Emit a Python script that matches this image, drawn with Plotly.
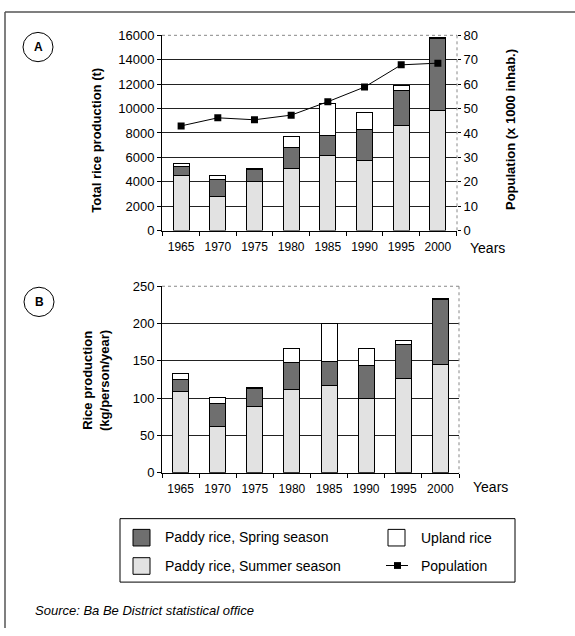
import plotly.graph_objects as go

W, H = 575, 636

years = ["1965", "1970", "1975", "1980", "1985", "1990", "1995", "2000"]

# Panel A: total rice production (t)
a_summer = [4550, 2800, 4020, 5090, 6120, 5780, 8600, 9880]
a_spring = [670, 1400, 990, 1730, 1650, 2530, 2900, 5830]
a_upland = [290, 350, 60, 850, 2610, 1330, 400, 80]
population = [42.9, 46.2, 45.4, 47.3, 52.8, 58.8, 67.9, 68.6]

# Panel B: rice production per person (kg/person/year)
b_summer = [109, 62, 89, 112, 117, 99, 126, 145.5]
b_spring = [15.6, 31.2, 23.8, 35.6, 32, 44.3, 45.6, 86.7]
b_upland = [8.2, 7.8, 0.9, 19.6, 50.5, 22.7, 5.2, 0.8]

C_SUMMER = "#e2e2e2"
C_SPRING = "#6f6f6f"
C_UPLAND = "#ffffff"
FONT = "Liberation Sans, Arial, sans-serif"


def px(x):
    return x / W


def py(y):
    return 1 - y / H


A_X = [162, 457]
A_Y = [29, 229]
B_X = [162, 459]
B_Y = [286, 477]

fig = go.Figure()

bar_line = dict(color="black", width=1)
for xa, ya, vals in [("x", "y", (a_summer, a_spring, a_upland)),
                     ("x3", "y3", (b_summer, b_spring, b_upland))]:
    for v, c, n in zip(vals, [C_SUMMER, C_SPRING, C_UPLAND],
                       ["Paddy rice, Summer season", "Paddy rice, Spring season", "Upland rice"]):
        fig.add_trace(go.Bar(x=years, y=v, name=n, marker=dict(color=c, line=bar_line),
                             xaxis=xa, yaxis=ya, showlegend=False))

fig.add_trace(go.Scatter(x=years, y=population, name="Population", mode="lines+markers",
                         line=dict(color="black", width=1),
                         marker=dict(symbol="square", size=7, color="black"),
                         xaxis="x", yaxis="y2", showlegend=False))

xcommon = dict(type="category", showline=True, linecolor="black", linewidth=1,
               ticks="outside", tickson="boundaries", ticklen=4, tickcolor="black",
               tickfont=dict(size=12, color="black"), showgrid=False, ticklabelstandoff=5)
ycommon = dict(showline=True, linecolor="black", linewidth=1, ticks="outside", ticklen=4,
               tickcolor="black", tickfont=dict(size=13, color="black"), tickformat="d",
               showgrid=True, gridcolor="#222222", gridwidth=1, zeroline=False)

fig.update_layout(
    width=W, height=H, margin=dict(l=0, r=0, t=0, b=0),
    paper_bgcolor="white", plot_bgcolor="white",
    font=dict(family=FONT, color="black"),
    barmode="stack", bargap=0.57, showlegend=False,
    xaxis=dict(domain=[px(A_X[0]), px(A_X[1])], anchor="y", **xcommon),
    yaxis=dict(domain=[py(A_Y[1]), py(A_Y[0])], anchor="x", range=[0, 16000], dtick=2000, **ycommon),
    yaxis2=dict(overlaying="y", side="right", anchor="x", range=[0, 80], dtick=10,
                showgrid=False, showline=False, ticks="outside", ticklen=3, tickcolor="black",
                tickfont=dict(size=13, color="black"), zeroline=False),
    xaxis3=dict(domain=[px(B_X[0]), px(B_X[1])], anchor="y3", **xcommon),
    yaxis3=dict(domain=[py(B_Y[1]), py(B_Y[0])], anchor="x3", range=[0, 250], dtick=50, **ycommon),
)

shapes = []
# dotted top/right plot borders
for (x0, x1), (y0, y1) in [(A_X, A_Y), (B_X, B_Y)]:
    shapes.append(dict(type="line", xref="paper", yref="paper", x0=px(x0), x1=px(x1), y0=py(y0), y1=py(y0),
                       line=dict(color="#888888", width=1, dash="dot"), layer="above"))
    shapes.append(dict(type="line", xref="paper", yref="paper", x0=px(x1), x1=px(x1), y0=py(y0), y1=py(y1),
                       line=dict(color="#888888", width=1, dash="dot"), layer="above"))
# outer frame (left & top)
shapes.append(dict(type="line", xref="paper", yref="paper", x0=px(5), x1=px(5), y0=py(5), y1=py(636),
                   line=dict(color="#555555", width=1.5)))
shapes.append(dict(type="line", xref="paper", yref="paper", x0=px(5), x1=px(575), y0=py(5), y1=py(5),
                   line=dict(color="#555555", width=1.5)))
# panel circles
for cx, cy in [(38, 41), (39, 302)]:
    shapes.append(dict(type="circle", xref="paper", yref="paper", x0=px(cx - 15), x1=px(cx + 15),
                       y0=py(cy + 15), y1=py(cy - 15), line=dict(color="black", width=1)))
# legend box
shapes.append(dict(type="rect", xref="paper", yref="paper", x0=px(120), x1=px(515), y0=py(589), y1=py(524),
                   line=dict(color="black", width=1)))
for (x0, y0, c) in [(133, 535, C_SPRING), (133, 564, C_SUMMER), (388, 535, C_UPLAND)]:
    shapes.append(dict(type="rect", xref="paper", yref="paper", x0=px(x0), x1=px(x0 + 17),
                       y0=py(y0 + 17), y1=py(y0), fillcolor=c, line=dict(color="black", width=1)))
shapes.append(dict(type="line", xref="paper", yref="paper", x0=px(386), x1=px(408), y0=py(572), y1=py(572),
                   line=dict(color="black", width=1)))
shapes.append(dict(type="rect", xref="paper", yref="paper", x0=px(394), x1=px(401), y0=py(575.5), y1=py(568.5),
                   fillcolor="black", line=dict(color="black", width=0)))
fig.update_layout(shapes=shapes)

ann = []


def text(x, y, s, size=13, bold=False, italic=False, angle=0, xanchor="center"):
    if bold:
        s = "<b>" + s + "</b>"
    if italic:
        s = "<i>" + s + "</i>"
    ann.append(dict(x=px(x), y=py(y), xref="paper", yref="paper", text=s, showarrow=False,
                    textangle=angle, xanchor=xanchor, yanchor="middle",
                    font=dict(size=size, color="black", family=FONT)))


text(38, 41, "A", size=12, bold=True)
text(39, 302, "B", size=12, bold=True)
text(97, 137, "Total rice production (t)", bold=True, angle=-90)
text(510, 126, "Population (x 1000 inhab.)", bold=True, angle=-90)
text(468, 247, "Years", size=14, xanchor="left")
text(96, 383, "Rice production<br>(kg/person/year)", bold=True, angle=-90)
text(471, 492, "Years", size=14, xanchor="left")
text(163, 543, "Paddy rice, Spring season", size=14, xanchor="left")
text(163, 572, "Paddy rice, Summer season", size=14, xanchor="left")
text(419, 544, "Upland rice", size=14, xanchor="left")
text(419, 572, "Population", size=14, xanchor="left")
text(33, 618, "Source: Ba Be District statistical office", size=13, italic=True, xanchor="left")
fig.update_layout(annotations=ann)

fig.write_html("out.html", config={"displayModeBar": False},
               post_script="document.body.style.margin='0';")
